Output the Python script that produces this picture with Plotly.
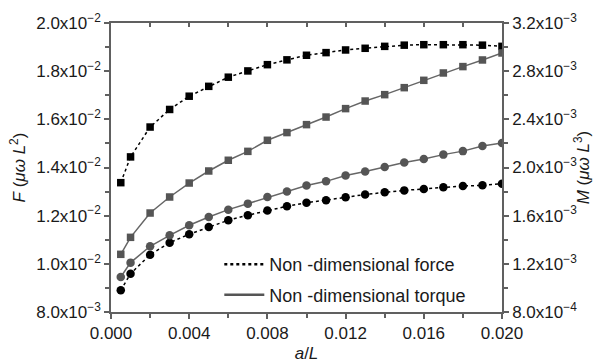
import plotly.graph_objects as go

# a/L values
aL = [0.0005, 0.001, 0.002, 0.003, 0.004, 0.005, 0.006, 0.007, 0.008, 0.009, 0.010,
      0.011, 0.012, 0.013, 0.014, 0.015, 0.016, 0.017, 0.018, 0.019, 0.020]

# Non-dimensional force (left axis)
force_sq = [0.01337, 0.01444, 0.01568, 0.01641, 0.01696, 0.01737, 0.01775, 0.01801, 0.01827,
            0.01847, 0.01866, 0.01877, 0.01888, 0.01895, 0.01903, 0.01908, 0.01910, 0.01910,
            0.01910, 0.01908, 0.01903]
force_ci = [0.00890, 0.00959, 0.01038, 0.01088, 0.01123, 0.01153, 0.01181, 0.01202, 0.01221,
            0.01239, 0.01254, 0.01264, 0.01276, 0.01288, 0.01297, 0.01305, 0.01311, 0.01318,
            0.01323, 0.01326, 0.01333]

# Non-dimensional torque (right axis)
torque_sq = [0.001279, 0.001420, 0.001622, 0.001755, 0.001871, 0.001971, 0.002060, 0.002134,
             0.002226, 0.002290, 0.002356, 0.002419, 0.002489, 0.002552, 0.002605, 0.002663,
             0.002724, 0.002785, 0.002838, 0.002893, 0.002951]
torque_ci = [0.001091, 0.001210, 0.001346, 0.001437, 0.001520, 0.001589, 0.001650, 0.001700,
             0.001755, 0.001800, 0.001850, 0.001885, 0.001933, 0.001966, 0.002004, 0.002041,
             0.002071, 0.002107, 0.002136, 0.002178, 0.002203]

x_ticks = [0.000, 0.004, 0.008, 0.012, 0.016, 0.020]
x_labels = ["0.000", "0.004", "0.008", "0.012", "0.016", "0.020"]
yl_ticks = [0.008, 0.010, 0.012, 0.014, 0.016, 0.018, 0.020]
yl_labels = ["8.0x10<sup>\u22123</sup>", "1.0x10<sup>\u22122</sup>", "1.2x10<sup>\u22122</sup>",
             "1.4x10<sup>\u22122</sup>", "1.6x10<sup>\u22122</sup>", "1.8x10<sup>\u22122</sup>",
             "2.0x10<sup>\u22122</sup>"]
yr_ticks = [0.0008, 0.0012, 0.0016, 0.0020, 0.0024, 0.0028, 0.0032]
yr_labels = ["8.0x10<sup>\u22124</sup>", "1.2x10<sup>\u22123</sup>", "1.6x10<sup>\u22123</sup>",
             "2.0x10<sup>\u22123</sup>", "2.4x10<sup>\u22123</sup>", "2.8x10<sup>\u22123</sup>",
             "3.2x10<sup>\u22123</sup>"]
legend_names = ["Non -dimensional force", "Non -dimensional torque"]

BLACK = "#000000"
GRAY = "#555555"
AXC = "#606060"
FONT = "Liberation Sans, Arial, sans-serif"

fig = go.Figure()
fig.add_trace(go.Scatter(x=aL, y=force_sq, mode="lines+markers", showlegend=False,
                         line=dict(color=BLACK, dash="dot", width=1.5),
                         marker=dict(symbol="square", size=7.5, color=BLACK)))
fig.add_trace(go.Scatter(x=aL, y=force_ci, mode="lines+markers", showlegend=False,
                         line=dict(color=BLACK, dash="dot", width=1.5),
                         marker=dict(symbol="circle", size=8.5, color=BLACK)))
fig.add_trace(go.Scatter(x=aL, y=torque_sq, mode="lines+markers", showlegend=False,
                         xaxis="x2", yaxis="y2",
                         line=dict(color="#666666", width=1.5),
                         marker=dict(symbol="square", size=7.5, color=GRAY)))
fig.add_trace(go.Scatter(x=aL, y=torque_ci, mode="lines+markers", showlegend=False,
                         xaxis="x2", yaxis="y2",
                         line=dict(color="#666666", width=1.5),
                         marker=dict(symbol="circle", size=8.5, color=GRAY)))
# legend-only entries
fig.add_trace(go.Scatter(x=[None], y=[None], mode="lines", name=legend_names[0],
                         legendgroup="f",
                         line=dict(color=BLACK, dash="dot", width=2.5)))
fig.add_trace(go.Scatter(x=[None], y=[None], mode="lines", name=legend_names[1],
                         legendgroup="t",
                         line=dict(color="#555555", width=2.5)))

xr = [0, 0.020]
fig.update_layout(
    width=593, height=363,
    margin=dict(l=111, r=91, t=23, b=51, autoexpand=False),
    paper_bgcolor="white", plot_bgcolor="white",
    font=dict(family=FONT, size=17, color="#1a1a1a"),
    showlegend=True,
    legend=dict(x=0.277, y=0.228, xanchor="left", yanchor="top",
                bgcolor="rgba(0,0,0,0)", font=dict(size=18), tracegroupgap=4,
                itemwidth=40),
    xaxis=dict(range=xr, tickmode="array", tickvals=x_ticks, ticktext=x_labels,
               automargin=False,
               ticks="outside", ticklen=5, tickwidth=1.5, tickcolor=AXC,
               minor=dict(tickmode="linear", tick0=0, dtick=0.002, ticks="outside",
                          ticklen=4, tickwidth=1.5, tickcolor=AXC),
               showline=True, linecolor=AXC, linewidth=1.5, showgrid=False, zeroline=False,
               title=dict(text="<i>a</i>/<i>L</i>", standoff=12, font=dict(size=17))),
    xaxis2=dict(range=xr, overlaying="x", side="top", anchor="y2", automargin=False,
                tickmode="linear", tick0=0, dtick=0.002, ticks="inside", ticklen=4,
                tickwidth=1.5, tickcolor=AXC, showticklabels=False,
                showline=True, linecolor=AXC, linewidth=1.5, showgrid=False, zeroline=False),
    yaxis=dict(range=[0.008, 0.020], tickmode="array", tickvals=yl_ticks, ticktext=yl_labels,
               automargin=False,
               ticks="outside", ticklen=5, tickwidth=1.5, tickcolor=AXC,
               minor=dict(tickmode="linear", tick0=0, dtick=0.001, ticks="outside",
                          ticklen=4, tickwidth=1.5, tickcolor=AXC),
               showline=True, linecolor=AXC, linewidth=1.5, showgrid=False, zeroline=False,
               title=dict(text="<i>F</i> (<i>\u03bc\u03c9 L</i><sup>2</sup>)", standoff=6,
                          font=dict(size=17))),
    yaxis2=dict(range=[0.0008, 0.0032], overlaying="y", side="right", anchor="x2",
                automargin=False,
                tickmode="array", tickvals=yr_ticks, ticktext=yr_labels,
                ticks="outside", ticklen=5, tickwidth=1.5, tickcolor=AXC,
                minor=dict(tickmode="linear", tick0=0, dtick=0.0002, ticks="outside",
                           ticklen=4, tickwidth=1.5, tickcolor=AXC),
                showline=True, linecolor=AXC, linewidth=1.5, showgrid=False, zeroline=False,
                title=dict(text="<i>M</i> (<i>\u03bc\u03c9 L</i><sup>3</sup>)", standoff=10,
                           font=dict(size=17))),
)

fig.write_html("out.html")
